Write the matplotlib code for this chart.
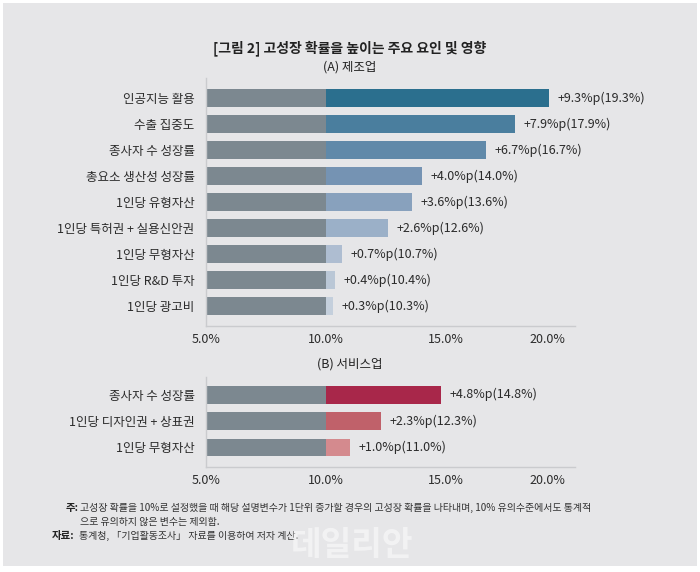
import matplotlib
matplotlib.use("Agg")
import matplotlib.pyplot as plt
from matplotlib.patches import Rectangle

plt.rcParams['font.family'] = ['Noto Sans CJK KR', 'DejaVu Sans']

# ---- data ----
title = "[그림 2] 고성장 확률을 높이는 주요 요인 및 영향"
sub_a = "(A) 제조업"
sub_b = "(B) 서비스업"
cats_a = ["인공지능 활용", "수출 집중도", "종사자 수 성장률", "총요소 생산성 성장률",
          "1인당 유형자산", "1인당 특허권 + 실용신안권", "1인당 무형자산",
          "1인당 R&D 투자", "1인당 광고비"]
inc_a = [9.3, 7.9, 6.7, 4.0, 3.6, 2.6, 0.7, 0.4, 0.3]
cats_b = ["종사자 수 성장률", "1인당 디자인권 + 상표권", "1인당 무형자산"]
inc_b = [4.8, 2.3, 1.0]
base = 10.0
xticks = [5.0, 10.0, 15.0, 20.0]
note1 = "고성장 확률을 10%로 설정했을 때 해당 설명변수가 1단위 증가할 경우의 고성장 확률을 나타내며, 10% 유의수준에서도 통계적"
note2 = "으로 유의하지 않은 변수는 제외함."
src = "통계청, 「기업활동조사」 자료를 이용하여 저자 계산."

# ---- style ----
W, H = 700, 572
bg = "#e6e6e8"
gray = "#7c8890"
blues = ["#2b6f8e", "#4a7e9e", "#6089a9", "#7593b3", "#88a1bd",
         "#9bb0c8", "#aebdd1", "#bac7d6", "#c4cfdc"]
reds = ["#a8274a", "#c0616a", "#d48a8e"]
txt = "#2b2b2b"
xmin, xmax = 5.0, 20.4
ax_left, px_per_unit = 205.7, 24.0

fig = plt.figure(figsize=(W / 100, H / 100), dpi=100, facecolor="white")
fig.patches.append(Rectangle((3 / W, 1 - 566 / H), 694 / W, 563 / H,
                             transform=fig.transFigure, facecolor=bg,
                             edgecolor="none", zorder=-10))


def fx(px):
    return px / W


def fy(py):
    return 1 - py / H


def panel(top, bottom, cats, incs, colors, ylim):
    ax = fig.add_axes([fx(ax_left), fy(bottom),
                       fx((xmax - xmin) * px_per_unit), (bottom - top) / H])
    ax.set_facecolor("none")
    ys = list(range(len(cats)))
    ax.barh(ys, [base - xmin] * len(cats), left=xmin, height=0.67,
            color=gray, zorder=2)
    ax.barh(ys, incs, left=base, height=0.67, color=colors, zorder=2)
    for y, v in zip(ys, incs):
        ax.annotate(f"+{v:.1f}%p({base + v:.1f}%)", xy=(base + v, y),
                    xytext=(6, 0), textcoords="offset points",
                    va="center", ha="left", fontsize=9, color=txt)
    ax.set_xlim(xmin, xmax)
    ax.set_ylim(*ylim)
    ax.set_yticks(ys)
    ax.set_yticklabels(cats, fontsize=9, color=txt)
    ax.set_xticks(xticks)
    labels = ax.set_xticklabels([f"{t:.1f}%" for t in xticks], fontsize=9,
                                color=txt)
    labels[-1].set_horizontalalignment("right")
    ax.tick_params(length=0, pad=8)
    ax.tick_params(axis="x", pad=5)
    for s in ["top", "right"]:
        ax.spines[s].set_visible(False)
    for s in ["left", "bottom"]:
        ax.spines[s].set_color("#cacbce")
        ax.spines[s].set_linewidth(1.0)
    return ax


panel(78, 326, cats_a, inc_a, blues, (8.77, -0.77))
panel(377, 467, cats_b, inc_b, reds, (2.75, -0.68))

fig.text(0.5, fy(48), title, ha="center", va="center", fontsize=10,
         fontweight="bold", color="#222222")
fig.text(0.5, fy(67), sub_a, ha="center", va="center", fontsize=9,
         fontweight="medium", color="#222222")
fig.text(0.5, fy(364), sub_b, ha="center", va="center", fontsize=9,
         fontweight="medium", color="#222222")

fig.text(fx(66), fy(508), "주:", ha="left", va="center", fontsize=7.5,
         fontweight="bold", color="#222222")
fig.text(fx(80), fy(508), note1, ha="left", va="center", fontsize=7.2,
         color="#333333")
fig.text(fx(80), fy(522), note2, ha="left", va="center", fontsize=7.2,
         color="#333333")
fig.text(fx(52), fy(536), "자료:", ha="left", va="center", fontsize=7.5,
         fontweight="bold", color="#222222")
fig.text(fx(79), fy(536), src, ha="left", va="center", fontsize=7.2,
         color="#333333")

fig.text(fx(352), fy(546), "데일리안", ha="center", va="center", fontsize=24,
         fontweight="bold", color="white", alpha=0.5)

fig.savefig("out.png", dpi=100, facecolor=fig.get_facecolor())
